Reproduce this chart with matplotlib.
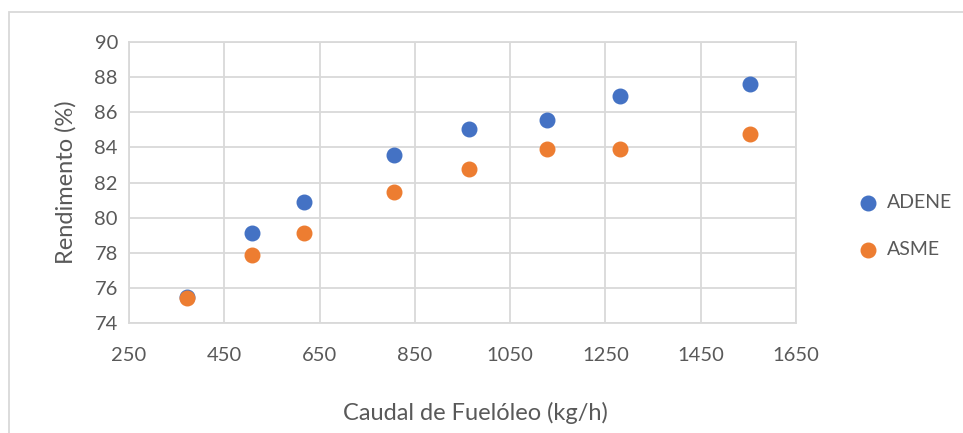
import matplotlib
matplotlib.use("Agg")
import matplotlib.pyplot as plt
from matplotlib.patches import Rectangle

plt.rcParams['font.family'] = ['Lato', 'DejaVu Sans']

# Caudal de fuelóleo (kg/h) e rendimento (%) pelos dois métodos
caudal = [372, 508, 617, 806, 964, 1127, 1281, 1553]
rend_adene = [75.5, 79.15, 80.9, 83.55, 85.05, 85.55, 86.95, 87.6]
rend_asme = [75.4, 77.85, 79.1, 81.45, 82.75, 83.9, 83.9, 84.75]

x_ticks = [250, 450, 650, 850, 1050, 1250, 1450, 1650]
y_ticks = [74, 76, 78, 80, 82, 84, 86, 88, 90]

W, H = 963, 433
fig = plt.figure(figsize=(W / 100, H / 100), dpi=100)

# moldura do gráfico
fig.patches.append(Rectangle((9 / W, -0.1), 1.2, 1.1 - 12 / H,
                             transform=fig.transFigure, fill=False,
                             edgecolor="#d9d9d9", linewidth=1.3))

ax = fig.add_axes([129 / W, 1 - 323 / H, (796 - 129) / W, (323 - 42) / H])

ax.scatter(caudal, rend_adene, s=110, color="#4472C4", label="ADENE", zorder=3)
ax.scatter(caudal, rend_asme, s=110, color="#ED7D31", label="ASME", zorder=3)

ax.set_xlim(250, 1650)
ax.set_ylim(74, 90)
ax.set_xticks(x_ticks)
ax.set_yticks(y_ticks)
ax.grid(color="#d9d9d9", linewidth=1.3)
ax.set_axisbelow(True)
for s in ax.spines.values():
    s.set_color("#d9d9d9")
    s.set_linewidth(1.3)
ax.tick_params(length=0, labelsize=14.5, labelcolor="#595959", pad=8)
ax.tick_params(axis="x", pad=17)

ax.set_ylabel("Rendimento (%)", fontsize=17, color="#595959", labelpad=13)
fig.text(475 / W, 1 - 413 / H, "Caudal de Fuelóleo (kg/h)", fontsize=17,
         color="#595959", ha="center", va="center")

ax.legend(loc="center left", bbox_to_anchor=(1.052, 0.345), frameon=False,
          fontsize=14, labelcolor="#595959", handletextpad=0.0,
          labelspacing=1.55, scatterpoints=1)

fig.savefig("out.png", dpi=100)
